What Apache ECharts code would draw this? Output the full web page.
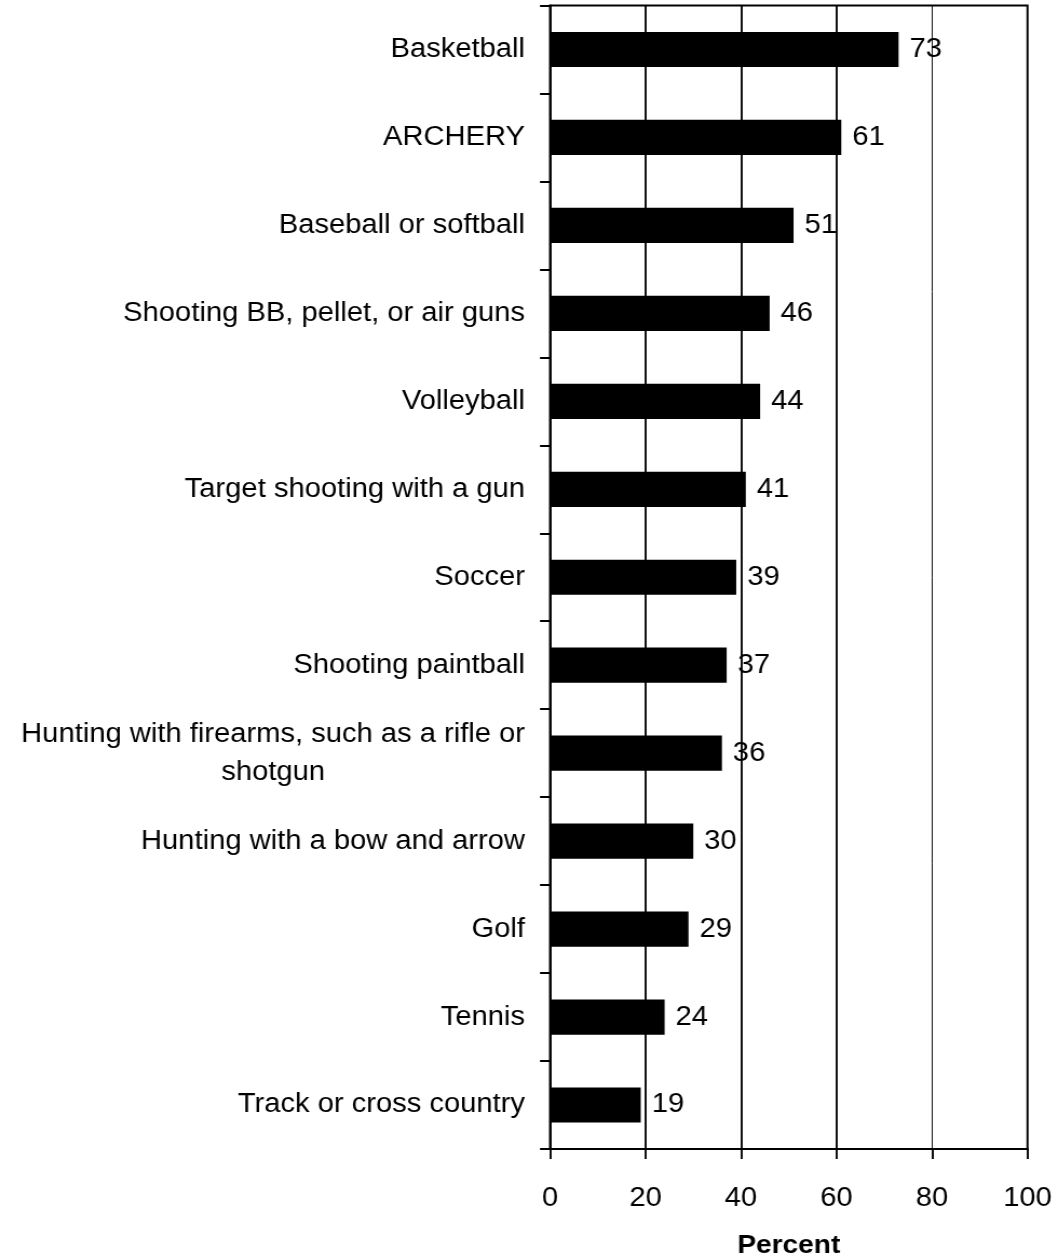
<!DOCTYPE html>
<html>
<head>
<meta charset="utf-8">
<title>Percent participating, by activity</title>
<script src="https://cdn.jsdelivr.net/npm/echarts@6/dist/echarts.min.js"></script>
<style>
  html, body { margin: 0; padding: 0; background: #fff; overflow: hidden; }
  #wrap { width: 1058px; height: 1259px; overflow: hidden; }
  /* The chart is laid out on a slightly narrower canvas and widened, giving the wide Arial look */
  #chart { width: 980px; height: 1259px; transform: scaleX(1.079592); transform-origin: 0 0; }
</style>
</head>
<body>
<div id="wrap"><div id="chart"></div></div>
<script>
// Activities, top to bottom
const categories = [
  'Basketball',
  'ARCHERY',
  'Baseball or softball',
  'Shooting BB, pellet, or air guns',
  'Volleyball',
  'Target shooting with a gun',
  'Soccer',
  'Shooting paintball',
  'Hunting with firearms, such as a rifle or\nshotgun',
  'Hunting with a bow and arrow',
  'Golf',
  'Tennis',
  'Track or cross country'
];

// Percent for each activity
const percents = [73, 61, 51, 46, 44, 41, 39, 37, 36, 30, 29, 24, 19];

// Percent axis ticks
const xTicks = [0, 20, 40, 60, 80, 100];

const SX = 1058 / 980;          // horizontal widening applied by CSS
const hx = v => v / SX;         // horizontal pixel size before widening
const FONT = 'Arial, "Liberation Sans", Helvetica, sans-serif';
const FS = 27;

const chart = echarts.init(document.getElementById('chart'), null, { renderer: 'canvas' });

// inner vertical grid lines (the right one is the frame)
const gridLines = xTicks.slice(1, -1).map(v => ({
  xAxis: v,
  lineStyle: { color: '#000', type: 'solid', width: v === 80 ? hx(1) : hx(2) }
}));

chart.setOption({
  animation: false,
  backgroundColor: '#fff',
  grid: {
    left: hx(550),
    right: hx(1058 - 1027.5),
    top: 5.5,
    bottom: 110,
    containLabel: false,
    outerBoundsMode: 'none',
    show: true,
    borderColor: '#000',
    borderWidth: 1.9,
    backgroundColor: 'transparent'
  },
  xAxis: {
    type: 'value',
    min: xTicks[0],
    max: xTicks[xTicks.length - 1],
    interval: xTicks[1] - xTicks[0],
    axisLine: { show: true, onZero: false, lineStyle: { color: '#000', width: 2 } },
    axisTick: { show: true, length: 10, lineStyle: { color: '#000', width: hx(2) } },
    splitLine: { show: false },
    axisLabel: { margin: 36, color: '#000', fontSize: FS, fontFamily: FONT },
    name: 'Percent',
    nameLocation: 'middle',
    nameGap: 84,
    nameTextStyle: { color: '#000', fontSize: FS - 1, fontWeight: 'bold', fontFamily: FONT }
  },
  yAxis: {
    type: 'category',
    data: categories,
    inverse: true,
    axisLine: { show: true, lineStyle: { color: '#000', width: hx(2) } },
    axisTick: { show: true, alignWithLabel: false, length: hx(10), lineStyle: { color: '#000', width: 2 } },
    splitLine: { show: false },
    axisLabel: {
      margin: hx(25),
      interval: 0,
      color: '#000',
      fontSize: FS,
      fontFamily: FONT,
      formatter: v => v.split('\n').map(s => '{c|' + s + '}').join('\n'),
      rich: {
        c: { align: 'center', color: '#000', fontSize: FS, lineHeight: 38, fontFamily: FONT }
      }
    }
  },
  series: [{
    type: 'bar',
    data: percents,
    barWidth: '40%',
    itemStyle: { color: '#000' },
    emphasis: { disabled: true },
    label: {
      show: true,
      position: 'right',
      distance: hx(11),
      color: '#000',
      fontSize: FS,
      fontFamily: FONT
    },
    markLine: {
      silent: true,
      symbol: ['none', 'none'],
      label: { show: false },
      emphasis: { disabled: true },
      data: gridLines
    }
  }]
});
</script>
</body>
</html>
